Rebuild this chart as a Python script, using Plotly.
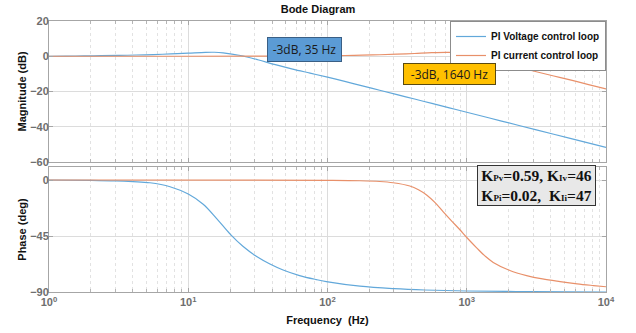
import plotly.graph_objects as go

# ---------------- data ----------------
freq_v_mag = [1, 1.33, 1.78, 2.37, 3.16, 4.22, 5.62, 7.5, 10, 13.3, 15.4, 17.8, 23.7, 31.6, 42.2, 56.2, 75,
              100, 133, 178, 237, 316, 422, 562, 750, 1000, 1778, 3162, 5623, 10000]
mag_v = [0, 0.08, 0.18, 0.3, 0.45, 0.7, 0.95, 1.3, 1.75, 2.2, 2.25, 1.9, 0.4, -2.0, -4.8, -7.3, -9.6,
         -11.9, -14.3, -16.8, -19.3, -21.8, -24.3, -26.8, -29.3, -31.8, -36.8, -41.8, -46.8, -51.8]

freq_i_mag = [1, 10, 31.6, 56.2, 100, 133, 178, 237, 316, 422, 562, 750, 1000, 1333, 1778, 2371, 3162,
              4217, 5623, 7499, 10000]
mag_i = [0, 0, 0.03, 0.1, 0.3, 0.42, 0.6, 0.85, 1.15, 1.55, 2.0, 2.2, 1.1, -1.1, -3.8, -6.3, -8.8,
         -11.2, -13.6, -16.1, -18.6]

freq_v_ph = [1, 2, 3, 4, 5.3, 7.4, 10, 12.8, 16, 20, 24.8, 31, 38.6, 48, 63, 83, 98, 171, 300, 500,
             1000, 3000, 10000]
ph_v = [0, -0.3, -0.7, -1.3, -2.2, -5.4, -11.3, -19.5, -31, -43.5, -53.5, -61.5, -67.5, -72.3, -76.8,
        -80, -81.6, -85.3, -87.3, -88.4, -89.2, -89.7, -90]

freq_i_ph = [1, 31.6, 100, 171, 237, 296, 390, 450, 515, 590, 678, 780, 893, 1000, 1178, 1350, 1550,
             2040, 2690, 3500, 4680, 6200, 8130, 10000]
ph_i = [0, -0.05, -0.3, -0.6, -1.2, -2.2, -4.8, -7.8, -12, -18, -25.6, -33, -40, -46.2, -54.5, -61,
        -66.2, -72.7, -76.8, -79.5, -81.6, -83.4, -84.8, -85.8]

series_names = ["PI Voltage control loop", "PI current control loop"]
x_tick_vals = [1, 10, 100, 1000, 10000]
x_tick_text = ["10<sup>0</sup>", "10<sup>1</sup>", "10<sup>2</sup>", "10<sup>3</sup>", "10<sup>4</sup>"]
x_minor_vals = [m * d for d in [1, 10, 100, 1000] for m in range(2, 10)]
mag_ticks = [20, 0, -20, -40, -60]
ph_ticks = [0, -45, -90]

BLUE = "#62a8da"
ORANGE = "#e8906a"

line_v = dict(color=BLUE, width=1.2, shape="spline", smoothing=1.0)
line_i = dict(color=ORANGE, width=1.2, shape="spline", smoothing=1.0)

fig = go.Figure()
# helper traces that only carry the minor-grid overlay axes
fig.add_trace(go.Scatter(x=x_tick_vals, y=[None] * len(x_tick_vals), mode="lines", showlegend=False,
                         hoverinfo="skip", xaxis="x3", yaxis="y"))
fig.add_trace(go.Scatter(x=x_tick_vals, y=[None] * len(x_tick_vals), mode="lines", showlegend=False,
                         hoverinfo="skip", xaxis="x4", yaxis="y2"))

fig.add_trace(go.Scatter(x=freq_v_mag, y=mag_v, mode="lines", name=series_names[0], line=line_v,
                         xaxis="x", yaxis="y"))
fig.add_trace(go.Scatter(x=freq_i_mag, y=mag_i, mode="lines", name=series_names[1], line=line_i,
                         xaxis="x", yaxis="y"))
fig.add_trace(go.Scatter(x=freq_v_ph, y=ph_v, mode="lines", showlegend=False, line=line_v,
                         xaxis="x2", yaxis="y2"))
fig.add_trace(go.Scatter(x=freq_i_ph, y=ph_i, mode="lines", showlegend=False, line=line_i,
                         xaxis="x2", yaxis="y2"))

tickfont = dict(family="Liberation Sans", size=11, color="#6e6e6e", weight="bold")
common_x = dict(type="log", range=[0, 4], showline=True, linecolor="#a6a6a6", linewidth=1,
                mirror="ticks", ticks="inside", ticklen=4, tickcolor="#a6a6a6", automargin=False,
                showgrid=True, gridcolor="#dcdcdc", gridwidth=1, zeroline=False,
                tickmode="array", tickvals=x_tick_vals, ticktext=x_tick_text, tickfont=tickfont)
minor_x = dict(type="log", range=[0, 4], showline=False, ticks="inside", ticklen=3, tickcolor="#b5b5b5",
               mirror="ticks", showgrid=True, gridcolor="#e2e2e2", griddash="dot", zeroline=False,
               tickmode="array", tickvals=x_minor_vals, showticklabels=False, automargin=False)
common_y = dict(showline=True, linecolor="#a6a6a6", mirror="ticks", ticks="inside", ticklen=4,
                tickcolor="#a6a6a6", showgrid=True, gridcolor="#dcdcdc", zeroline=False,
                tickfont=tickfont, tickmode="array", automargin=False, ticklabelstandoff=-3)

fig.update_layout(
    width=636, height=333,
    margin=dict(l=49, r=30, t=21, b=41),
    plot_bgcolor="white", paper_bgcolor="white",
    font=dict(family="Liberation Sans", color="#000"),
    xaxis=dict(common_x, domain=[0, 1], anchor="y", showticklabels=False),
    xaxis2=dict(common_x, domain=[0, 1], anchor="y2",
                title=dict(text="<b>Frequency  (Hz)</b>", font=dict(size=11, color="#111"), standoff=9)),
    xaxis3=dict(minor_x, overlaying="x", anchor="y"),
    xaxis4=dict(minor_x, overlaying="x2", anchor="y2"),
    yaxis=dict(common_y, domain=[0.48, 1.0], range=[-60, 20], tickvals=mag_ticks, anchor="x",
               title=dict(text="<b>Magnitude (dB)</b>", font=dict(size=11, color="#111"), standoff=1)),
    yaxis2=dict(common_y, domain=[0, 0.461], range=[-90, 10.4], tickvals=ph_ticks, anchor="x2",
                title=dict(text="<b>Phase (deg)</b>", font=dict(size=11, color="#111"), standoff=1)),
    showlegend=True,
    legend=dict(x=1.0, y=1.0, xanchor="right", yanchor="top", bgcolor="white",
                bordercolor="#8c8c8c", borderwidth=1, tracegroupgap=0,
                font=dict(family="Liberation Sans", size=10, color="#111", weight="bold"),
                itemwidth=30),
    title=dict(text="<b>Bode Diagram</b>", x=0.5, xanchor="center", y=0.973, yanchor="middle",
               font=dict(size=11, color="#111")),
)

fig.add_annotation(xref="paper", yref="paper", x=0.459, y=0.895, xanchor="center", yanchor="middle",
                   text="-3dB, 35 Hz", showarrow=False, bgcolor="#5b9bd5", bordercolor="#3a5f85",
                   borderwidth=1, width=71, height=21, borderpad=1,
                   font=dict(family="Open Sans", size=12, color="#1a1a1a"))
fig.add_annotation(xref="paper", yref="paper", x=0.719, y=0.806, xanchor="center", yanchor="middle",
                   text="-3dB, 1640 Hz", showarrow=False, bgcolor="#ffc000", bordercolor="#5a4a10",
                   borderwidth=1, width=89, height=18, borderpad=1,
                   font=dict(family="Open Sans", size=12, color="#1a1a1a"))

sub = "<span style='font-size:9px'>%s</span>"
gain_text = ("K" + sub % "Pv" + "=0.59, K" + sub % "Iv" + "=46<br>"
             "K" + sub % "Pi" + "=0.02,&nbsp; K" + sub % "Ii" + "=47")
fig.add_annotation(xref="paper", yref="paper", x=0.875, y=0.393, xanchor="center", yanchor="middle",
                   text="<b>" + gain_text + "</b>", showarrow=False, bgcolor="#e8e8e8",
                   bordercolor="#333", borderwidth=1, width=115, height=37, borderpad=1, align="center",
                   font=dict(family="Liberation Serif", size=15.5, color="#111"))

fig.write_html("out.html", config={"displayModeBar": False},
               post_script="document.body.style.margin='0';")
